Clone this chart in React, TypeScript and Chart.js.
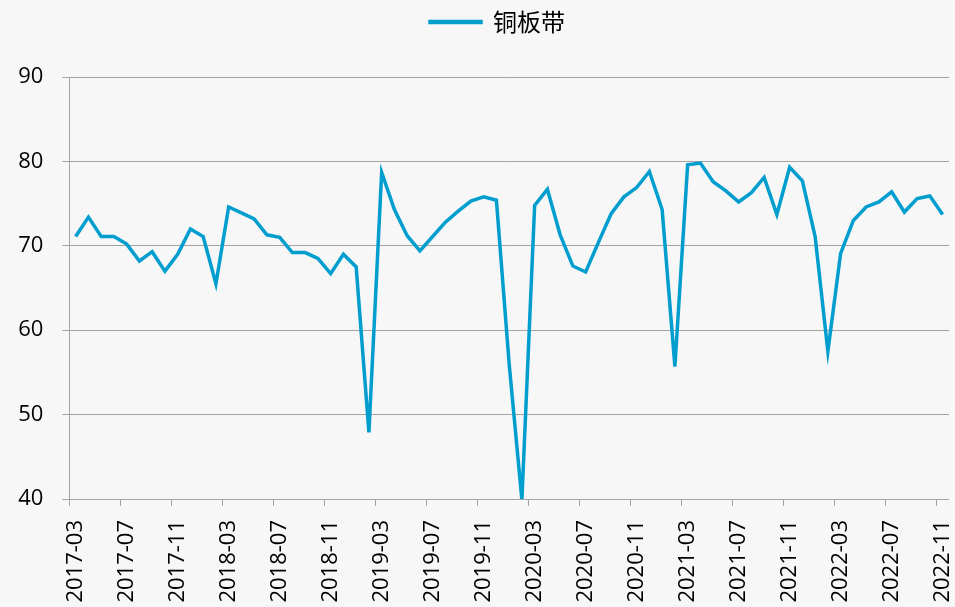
import React, { useEffect, useRef } from "react";
import { Chart, registerables } from "chart.js";

Chart.register(...registerables);

const months: string[] = [
  "2017-03", "2017-04", "2017-05", "2017-06", "2017-07", "2017-08", "2017-09", "2017-10", "2017-11", "2017-12",
  "2018-01", "2018-02", "2018-03", "2018-04", "2018-05", "2018-06", "2018-07", "2018-08", "2018-09", "2018-10",
  "2018-11", "2018-12", "2019-01", "2019-02", "2019-03", "2019-04", "2019-05", "2019-06", "2019-07", "2019-08",
  "2019-09", "2019-10", "2019-11", "2019-12", "2020-01", "2020-02", "2020-03", "2020-04", "2020-05", "2020-06",
  "2020-07", "2020-08", "2020-09", "2020-10", "2020-11", "2020-12", "2021-01", "2021-02", "2021-03", "2021-04",
  "2021-05", "2021-06", "2021-07", "2021-08", "2021-09", "2021-10", "2021-11", "2021-12", "2022-01", "2022-02",
  "2022-03", "2022-04", "2022-05", "2022-06", "2022-07", "2022-08", "2022-09", "2022-10", "2022-11",
];

const copperStrip: number[] = [
  71.1, 73.4, 71.1, 71.1, 70.2, 68.2, 69.3, 67.0, 69.0, 72.0,
  71.1, 65.5, 74.6, 73.9, 73.2, 71.3, 71.0, 69.2, 69.2, 68.5,
  66.7, 69.0, 67.5, 47.9, 78.7, 74.3, 71.2, 69.4, 71.1, 72.8,
  74.1, 75.3, 75.8, 75.4, 56.0, 39.9, 74.8, 76.7, 71.3, 67.6,
  66.9, 70.4, 73.8, 75.8, 76.9, 78.8, 74.3, 55.7, 79.6, 79.8,
  77.6, 76.5, 75.2, 76.3, 78.1, 73.7, 79.3, 77.7, 71.1, 57.5,
  69.1, 73.0, 74.6, 75.2, 76.4, 74.0, 75.6, 75.9, 73.7,
];

const seriesName = "铜板带";
const yTicks = { min: 40, max: 90, step: 10 };
const labelEvery = 4;

const LINE = "#009ECE";
const GRID = "#A3A3A3";
const TEXT = "#000000";
const FONT = "'Open Sans', 'Noto Sans', sans-serif";

const legendShift = {
  id: "legendShift",
  afterLayout(chart: any) {
    if (chart.legend) chart.legend.left = 46;
  },
};

export default function App() {
  const ref = useRef<HTMLCanvasElement | null>(null);

  useEffect(() => {
    if (!ref.current) return;
    const chart = new Chart(ref.current, {
      type: "line",
      data: {
        labels: months,
        datasets: [
          {
            label: seriesName,
            data: copperStrip,
            borderColor: LINE,
            backgroundColor: LINE,
            borderWidth: 3.5,
            pointRadius: 0,
            tension: 0,
            fill: false,
          },
        ],
      },
      plugins: [legendShift],
      options: {
        animation: false,
        responsive: false,
        maintainAspectRatio: false,
        layout: { padding: { left: 0, right: 6, top: 0, bottom: 0 } },
        plugins: {
          legend: {
            display: true,
            position: "top",
            labels: {
              boxWidth: 51,
              boxHeight: 1,
              padding: 10,
              color: TEXT,
              font: { family: "'Noto Sans CJK SC', sans-serif", size: 24 },
            },
          },
          title: {
            display: true,
            text: "",
            weight: 500,
            padding: { top: 32, bottom: 0 },
            font: { size: 1, lineHeight: 1 },
          } as any,
          tooltip: { enabled: false },
        },
        scales: {
          x: {
            type: "category",
            offset: true,
            afterFit: (s: any) => {
              s.height = 108;
              s.paddingLeft = 0;
              s.paddingRight = 0;
            },
            grid: {
              offset: true,
              drawOnChartArea: false,
              drawTicks: true,
              tickLength: 7,
              color: (c: any) => (c.index % labelEvery === 0 ? GRID : "rgba(0,0,0,0)"),
              tickColor: (c: any) => (c.index % labelEvery === 0 ? GRID : "rgba(0,0,0,0)"),
              lineWidth: 1,
            },
            border: { display: false },
            ticks: {
              autoSkip: false,
              maxRotation: 90,
              minRotation: 90,
              padding: 14,
              color: TEXT,
              font: { family: FONT, size: 22 },
              callback: (_v: any, i: number) => (i % labelEvery === 0 ? months[i] : ""),
            },
          },
          y: {
            min: yTicks.min,
            max: yTicks.max,
            afterFit: (s: any) => {
              s.width = 69.3;
            },
            grid: {
              color: GRID,
              lineWidth: 1,
              tickLength: 7,
              drawTicks: true,
            },
            border: { display: true, color: GRID, width: 1 },
            ticks: {
              stepSize: yTicks.step,
              padding: 19,
              color: TEXT,
              font: { family: FONT, size: 22 },
            },
          },
        },
      },
    });
    return () => chart.destroy();
  }, []);

  return (
    <div
      style={{
        position: "fixed",
        left: 0,
        top: 0,
        width: 955,
        height: 607,
        background: "#F7F7F7",
      }}
    >
      <canvas ref={ref} width={955} height={607} style={{ width: 955, height: 607 }} />
    </div>
  );
}
